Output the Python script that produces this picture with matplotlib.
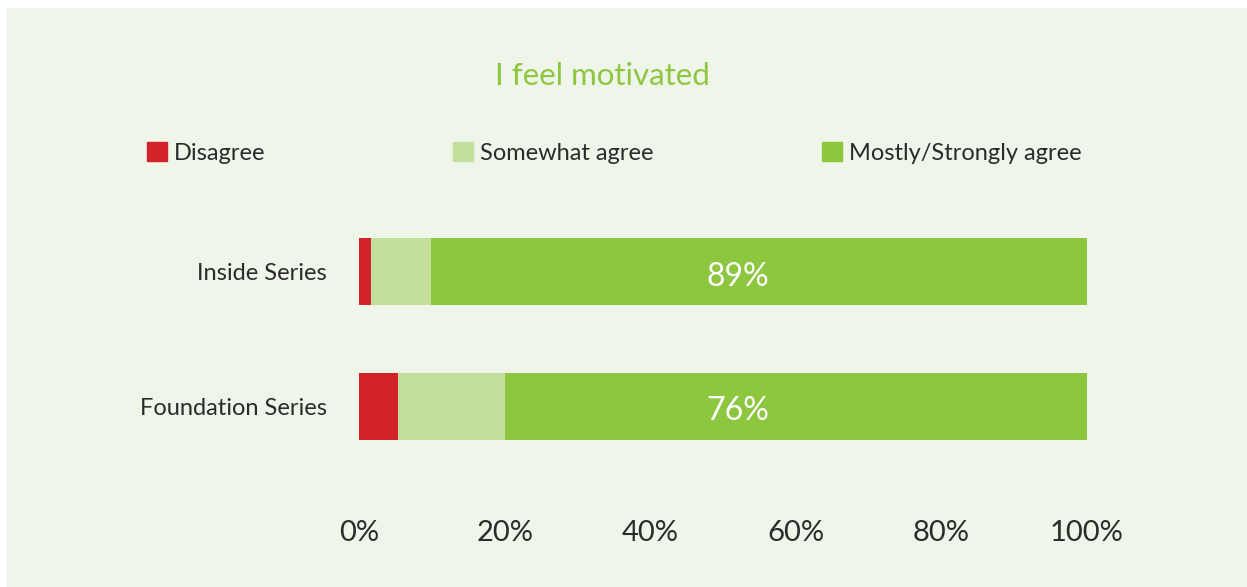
"""
Stacked bar chart: I feel motivated.
"""

import numpy as np
import matplotlib.pyplot as plt
from matplotlib.patches import Rectangle, Patch

plt.rcParams['font.family'] = ['Lato', 'DejaVu Sans']

series = ["Inside Series", "Foundation Series"]
disagree = np.array([1.6, 5.0])
somewhat = np.array([8.1, 14.0])
mostly = np.array([89.0, 76.0])
shown = ["89%", "76%"]
ticks = [0, 20, 40, 60, 80, 100]
tick_labels = ["0%", "20%", "40%", "60%", "80%", "100%"]

RED = "#d2232a"
LIGHT = "#c4df9b"
GREEN = "#8dc63f"
TEXT = "#2b2b2b"
BG = "#eff5e8"

# bars are scaled so each row fills 0-100
total = disagree + somewhat + mostly
d = disagree / total * 100
s = somewhat / total * 100
m = mostly / total * 100

fig = plt.figure(figsize=(12.47, 5.87), dpi=100, facecolor="white")
fig.patches.append(Rectangle((7 / 1247, 0), 1, 1 - 8 / 587,
                             transform=fig.transFigure, color=BG, zorder=-10))

ax = fig.add_axes([359.3 / 1247, 1 - 474 / 587, 727.7 / 1247, 270 / 587])
ax.set_facecolor("none")

y = np.arange(len(series))
ax.barh(y, d, height=0.5, color=RED)
ax.barh(y, s, left=d, height=0.5, color=LIGHT)
ax.barh(y, m, left=d + s, height=0.5, color=GREEN)

label_x = 52
for yi, txt in zip(y, shown):
    ax.annotate(txt, (label_x, yi), xytext=(0, -5), textcoords="offset pixels",
                ha="center", va="center", color="white", fontsize=23)

ax.set_xlim(0, 100)
ax.set_ylim(1.5, -0.5)
ax.set_yticks(y, series)
ax.set_xticks(ticks, tick_labels)
ax.tick_params(axis="x", length=0, pad=33, labelsize=21, labelcolor=TEXT)
ax.tick_params(axis="y", length=0, pad=23.5, labelsize=17, labelcolor=TEXT)
for lab in ax.get_yticklabels():
    lab.set_va("center_baseline")
for sp in ax.spines.values():
    sp.set_visible(False)

fig.text(602 / 1247, 1 - 76 / 587, "I feel motivated", ha="center",
         va="center", color=GREEN, fontsize=22.5)

# legend entries placed one by one
names = ["Disagree", "Somewhat agree", "Mostly/Strongly agree"]
colors = [RED, LIGHT, GREEN]
xs = [147, 453, 822]
for name, c, x0 in zip(names, colors, xs):
    leg = fig.legend(handles=[Patch(color=c, label=name)], loc="center left",
                     bbox_to_anchor=(x0 / 1247, 1 - 153 / 587),
                     frameon=False, fontsize=17, handlelength=0.85,
                     handleheight=0.85, handletextpad=0.3, borderpad=0,
                     borderaxespad=0, labelcolor=TEXT)

plt.savefig("out.png", dpi=100, facecolor="white")
